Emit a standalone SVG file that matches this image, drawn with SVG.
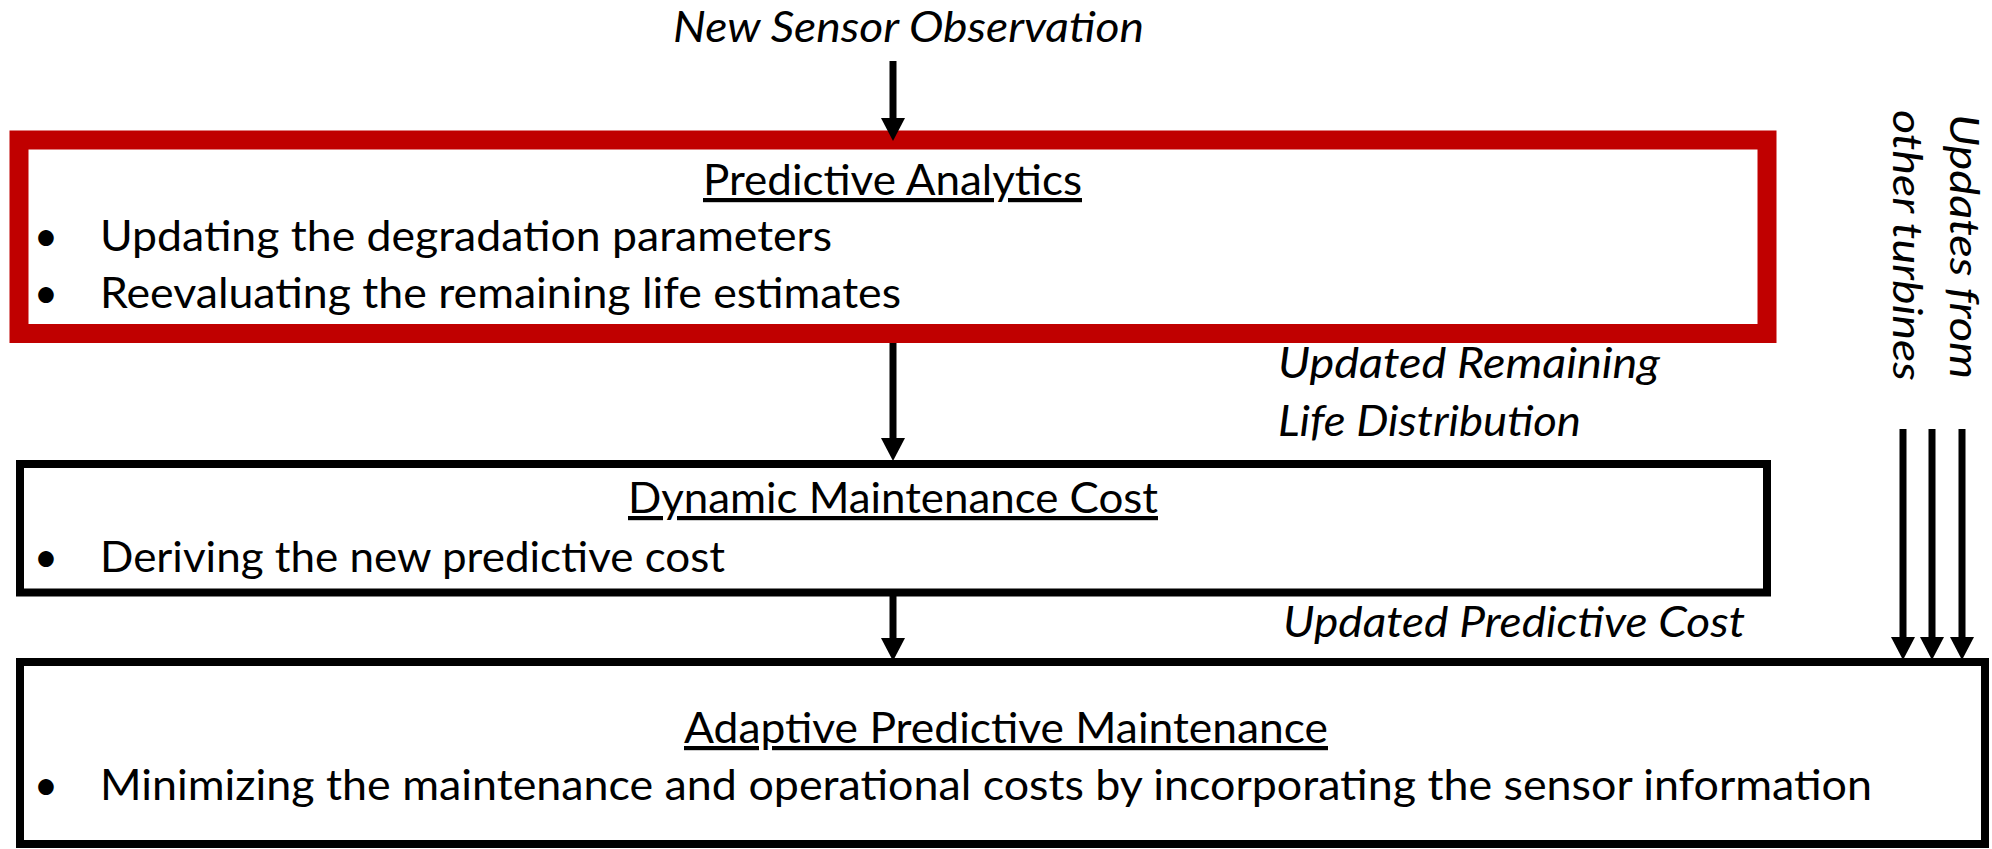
<svg xmlns="http://www.w3.org/2000/svg" width="1992" height="849" viewBox="0 0 1992 849">
  <defs>
    <marker id="ah" markerUnits="userSpaceOnUse" markerWidth="23" markerHeight="24" viewBox="0 0 22 23" refX="0" refY="11.5" orient="auto">
      <path d="M0,0 L22,11.5 L0,23 z" fill="#000"/>
    </marker>
    <style>
      .t { font-family: Lato, "Open Sans", "Liberation Sans", sans-serif; font-size: 42px; fill: #000; }
      .i { font-style: italic; }
      .u { text-decoration: underline; }
      .v { font-family: Lato, "Open Sans", "Liberation Sans", sans-serif; font-size: 40px; font-style: italic; fill: #000; }
      .box { fill: #fff; stroke: #000; stroke-width: 8; }
      .red { fill: #fff; stroke: #C00000; stroke-width: 19; }
      .conn { stroke: #000; stroke-width: 7; fill: none; marker-end: url(#ah); }
    </style>
  </defs>
  <rect width="1992" height="849" fill="#fff"/>

  <g id="node-predictive-analytics">
    <rect class="red" x="19" y="140" width="1748" height="193.5"/>
    <text class="t u" x="703" y="195" textLength="379" lengthAdjust="spacingAndGlyphs">Predictive Analytics</text>
    <text class="t" x="46" y="251" text-anchor="middle">•</text>
    <text class="t" x="100" y="251" textLength="732" lengthAdjust="spacingAndGlyphs">Updating the degradation parameters</text>
    <text class="t" x="46" y="308" text-anchor="middle">•</text>
    <text class="t" x="100" y="308" textLength="801" lengthAdjust="spacingAndGlyphs">Reevaluating the remaining life estimates</text>
  </g>

  <g id="node-dynamic-maintenance-cost">
    <rect class="box" x="20" y="464" width="1747" height="128.5"/>
    <text class="t u" x="628" y="513" textLength="530" lengthAdjust="spacingAndGlyphs">Dynamic Maintenance Cost</text>
    <text class="t" x="46" y="572" text-anchor="middle">•</text>
    <text class="t" x="100" y="572" textLength="625" lengthAdjust="spacingAndGlyphs">Deriving the new predictive cost</text>
  </g>

  <g id="node-adaptive-predictive-maintenance">
    <rect class="box" x="20" y="662" width="1965" height="182"/>
    <text class="t u" x="684" y="743" textLength="644" lengthAdjust="spacingAndGlyphs">Adaptive Predictive Maintenance</text>
    <text class="t" x="46" y="800" text-anchor="middle">•</text>
    <text class="t" x="100" y="800" textLength="1772" lengthAdjust="spacingAndGlyphs">Minimizing the maintenance and operational costs by incorporating the sensor information</text>
  </g>

  <g id="labels">
    <text class="t i" x="673" y="42" textLength="471" lengthAdjust="spacingAndGlyphs">New Sensor Observation</text>
    <text class="t i" x="1278" y="378" textLength="382" lengthAdjust="spacingAndGlyphs">Updated Remaining</text>
    <text class="t i" x="1278" y="436" textLength="303" lengthAdjust="spacingAndGlyphs">Life Distribution</text>
    <text class="t i" x="1283" y="637" textLength="462" lengthAdjust="spacingAndGlyphs">Updated Predictive Cost</text>
    <text class="v" transform="translate(1950,114) rotate(90)" textLength="265" lengthAdjust="spacingAndGlyphs">Updates from</text>
    <text class="v" transform="translate(1893,110) rotate(90)" textLength="271" lengthAdjust="spacingAndGlyphs">other turbines</text>
  </g>

  <g id="connectors">
    <line class="conn" x1="893" y1="61" x2="893" y2="118"/>
    <line class="conn" x1="893" y1="343" x2="893" y2="438"/>
    <line class="conn" x1="893" y1="596" x2="893" y2="638"/>
    <line class="conn" x1="1903" y1="429" x2="1903" y2="637"/>
    <line class="conn" x1="1932" y1="429" x2="1932" y2="637"/>
    <line class="conn" x1="1962" y1="429" x2="1962" y2="637"/>
  </g>
</svg>
